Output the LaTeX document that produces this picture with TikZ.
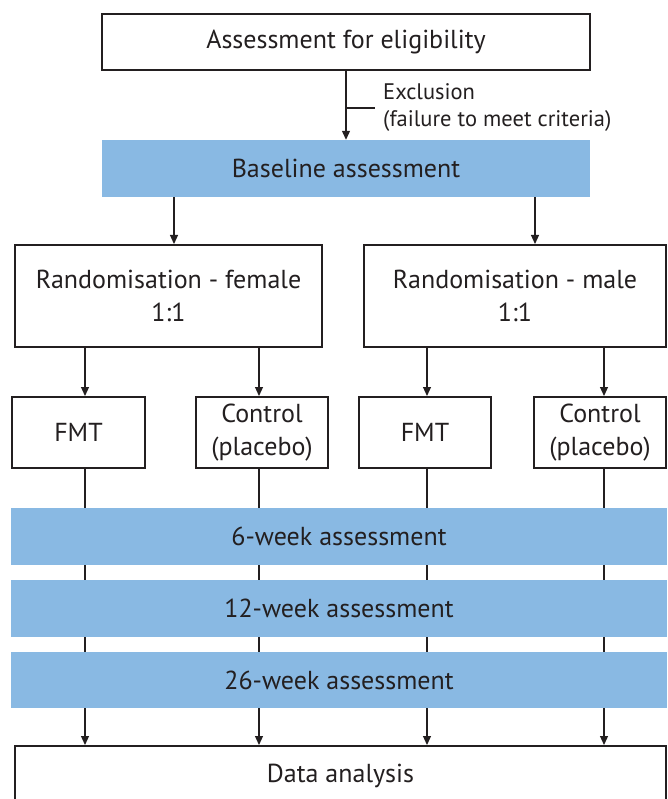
\documentclass[tikz,border=0pt]{standalone}
\usepackage{fontspec}
\setmainfont{PT Sans}
\usetikzlibrary{arrows.meta}
\definecolor{barblue}{RGB}{137,185,227}
\definecolor{inkgray}{RGB}{35,31,32}
\tikzset{
    whitebox/.style={rectangle, draw=inkgray, line width=2pt, fill=white, align=center, text=inkgray, inner sep=0pt, font=\fontsize{26}{33}\selectfont},
    bluebar/.style={rectangle, fill=barblue, align=center, text=inkgray, inner sep=0pt, font=\fontsize{26}{33}\selectfont},
    note/.style={align=left, text=inkgray, inner xsep=8pt, inner ysep=0pt, font=\fontsize{22.5}{27}\selectfont},
    arrow/.style={line width=1.2pt, draw=inkgray, -{Triangle[length=9pt,width=8pt]}},
    plain/.style={line width=1.2pt, draw=inkgray}
}

\begin{document}
\begin{tikzpicture}[x=1pt, y=-1pt]
    \useasboundingbox (0,0) rectangle (667,799);

    % Columns of the connectors
    \coordinate (colF) at (174,0);
    \coordinate (colM) at (535,0);
    \coordinate (colA) at (85,0);
    \coordinate (colB) at (259,0);
    \coordinate (colC) at (427,0);
    \coordinate (colD) at (604,0);

    % Screening and baseline
    \node[whitebox, minimum width=488pt, minimum height=56pt] (elig) at (346,42) {Assessment for eligibility};
    \node[bluebar, minimum width=488pt, minimum height=57pt] (base) at (346,168.5) {Baseline assessment};
    \node[note, anchor=west] (excl) at (375,108) {Exclusion\\(failure to meet criteria)};
    \draw[arrow] (elig) -- (base);
    \draw[plain] (excl.west -| elig.south) -- (excl.west);

    % Randomisation by sex
    \node[whitebox, minimum width=307pt, minimum height=102pt] (fem) at (168.5,296) {Randomisation - female\\1:1};
    \node[whitebox, minimum width=302pt, minimum height=102pt] (male) at (515,296) {Randomisation - male\\1:1};
    \draw[arrow] (colF |- base.south) -- (colF |- fem.north);
    \draw[arrow] (colM |- base.south) -- (colM |- male.north);

    % Treatment arms
    \node[whitebox, minimum width=133pt, minimum height=71pt] (fmtA) at (78.5,432.5) {FMT};
    \node[whitebox, minimum width=132pt, minimum height=71pt] (ctlA) at (262,432.5) {Control\\(placebo)};
    \node[whitebox, minimum width=132pt, minimum height=71pt] (fmtB) at (425,432.5) {FMT};
    \node[whitebox, minimum width=132pt, minimum height=71pt] (ctlB) at (600,432.5) {Control\\(placebo)};
    \draw[arrow] (colA |- fem.south) -- (colA |- fmtA.north);
    \draw[arrow] (colB |- fem.south) -- (colB |- ctlA.north);
    \draw[arrow] (colC |- male.south) -- (colC |- fmtB.north);
    \draw[arrow] (colD |- male.south) -- (colD |- ctlB.north);

    % Follow-up and analysis
    \node[whitebox, minimum width=651pt, minimum height=60pt] (data) at (340.5,776) {Data analysis};
    \foreach \col/\arm in {colA/fmtA, colB/ctlA, colC/fmtB, colD/ctlB} {
        \draw[arrow] (\col |- \arm.south) -- (\col |- data.north);
    }
    \node[bluebar, minimum width=656pt, minimum height=57pt] (wk6) at (339,536.5) {6-week assessment};
    \node[bluebar, minimum width=656pt, minimum height=57pt] (wk12) at (339,608.5) {12-week assessment};
    \node[bluebar, minimum width=656pt, minimum height=56pt] (wk26) at (339,680) {26-week assessment};
\end{tikzpicture}
\end{document}
